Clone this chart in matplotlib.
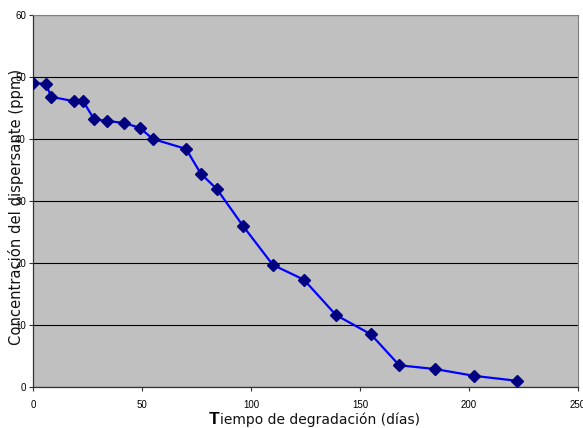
import matplotlib.pyplot as plt

# -- Data: dispersant concentration vs degradation time -----------------------
dias = [0, 6, 8.3, 18.8, 23, 28, 34, 41.7, 49, 55, 70.2, 77, 84.4, 96.3,
        110, 124.3, 139, 155, 168, 184.4, 202.3, 222]
conc = [49.0, 48.9, 46.8, 46.1, 46.1, 43.2, 42.9, 42.6, 41.8, 40.0, 38.4,
        34.4, 31.9, 26.0, 19.7, 17.3, 11.6, 8.5, 3.5, 2.9, 1.8, 1.0]

x_ticks = [0, 50, 100, 150, 200, 250]
y_ticks = [0, 10, 20, 30, 40, 50, 60]

plt.rcParams["font.family"] = ["Liberation Sans", "DejaVu Sans"]

fig = plt.figure(figsize=(5.83, 4.28), dpi=100)
ax = fig.add_axes([33 / 583, 1 - 387 / 428, 545 / 583, 372 / 428])
ax.set_facecolor("#C0C0C0")

ax.plot(dias, conc, color="#0000FF", linewidth=1.6, zorder=3,
        marker="D", markersize=6.5, markerfacecolor="#000080",
        markeredgecolor="#000080")

ax.set_xlim(0, 250)
ax.set_ylim(0, 60)
ax.set_xticks(x_ticks)
ax.set_yticks(y_ticks)
ax.tick_params(labelsize=7, length=3, width=0.8, color="#333333")
ax.tick_params(axis="x", pad=6)
ax.tick_params(axis="y", pad=2)
ax.grid(axis="y", color="black", linewidth=0.8, zorder=1)
ax.set_axisbelow(True)

for side in ["top", "right"]:
    ax.spines[side].set_color("#808080")
for side in ["left", "bottom"]:
    ax.spines[side].set_color("#333333")
    ax.spines[side].set_linewidth(0.9)

# -- Axis labels (y label sits on top of the tick labels) ----------------------
lab_font = ["DejaVu Sans"]
ax.set_ylabel("Concentración del dispersante (ppm)", fontsize=10.6,
              family=lab_font, color="#111111")
ax.yaxis.set_label_coords(-0.016, 0.484)

# x label: enlarged leading "T" followed by the rest of the text
t = fig.text(209 / 583, 1 - 424 / 428, "T", fontsize=12.5, fontweight="bold",
             ha="left", va="baseline")
ax.annotate("iempo de degradación (días)", xy=(1, 0), xycoords=t,
            ha="left", va="bottom", fontsize=10, family=lab_font,
            color="#111111")

fig.savefig("out.png", dpi=100)
